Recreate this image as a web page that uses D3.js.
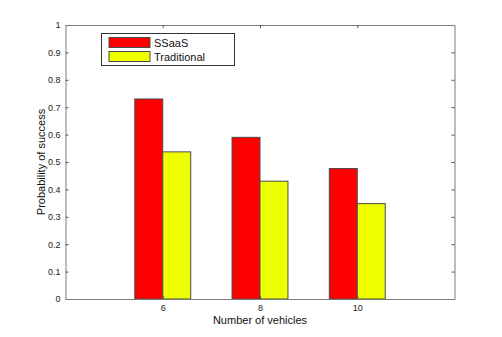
<!DOCTYPE html>
<html>
<head>
<meta charset="utf-8">
<script src="https://cdn.jsdelivr.net/npm/d3@7"></script>
<style>
  body { margin: 0; background: #fff; }
  svg { display: block; font-family: "Liberation Sans", Arial, sans-serif; }
</style>
</head>
<body>
<script>
// data
const vehicles = [6, 8, 10];
const seriesNames = ["SSaaS", "Traditional"];
const ssaas = [0.73, 0.59, 0.476];
const traditional = [0.537, 0.43, 0.348];
const yTicks = [0, 0.1, 0.2, 0.3, 0.4, 0.5, 0.6, 0.7, 0.8, 0.9, 1];

const svgWidth = 502, svgHeight = 337;
const plotLeft = 65.5, plotRight = 454.5, plotTop = 25, plotBottom = 299;
const colors = ["#ff0000", "#eeff00"];

const svg = d3.select("body").append("svg")
    .attr("width", svgWidth)
    .attr("height", svgHeight);

// scales
const x = d3.scaleLinear().domain([4, 12]).range([plotLeft, plotRight]);
const y = d3.scaleLinear().domain([0, 1]).range([plotBottom, plotTop]);
const barW = x(4.575) - x(4);

const rows = vehicles.map((v, i) => ({v: v, vals: [ssaas[i], traditional[i]]}));

// bars
const groups = svg.append("g").selectAll("g")
    .data(rows)
    .enter().append("g");

groups.selectAll("rect")
    .data(d => d.vals.map((val, j) => ({v: d.v, val: val, j: j})))
    .enter().append("rect")
    .attr("x", d => x(d.v) + (d.j - 1) * barW)
    .attr("y", d => y(d.val))
    .attr("width", barW)
    .attr("height", d => y(0) - y(d.val))
    .attr("fill", d => colors[d.j])
    .attr("stroke", "#4a4a4a")
    .attr("stroke-width", 1);

// axes (matlab style box with inward ticks)
const axisColor = "#7a7a7a";
const yAxisL = d3.axisLeft(y).tickValues(yTicks).tickSizeInner(-3).tickSizeOuter(0).tickPadding(5).tickFormat(d3.format("~g"));
const yAxisR = d3.axisRight(y).tickValues(yTicks).tickSizeInner(-3).tickSizeOuter(0).tickFormat("");
const xAxisB = d3.axisBottom(x).tickValues(vehicles).tickSizeInner(-3).tickSizeOuter(0).tickPadding(6);
const xAxisT = d3.axisTop(x).tickValues(vehicles).tickSizeInner(-3).tickSizeOuter(0).tickFormat("");

svg.append("g").attr("transform", `translate(${plotLeft},0)`).call(yAxisL);
svg.append("g").attr("transform", `translate(${plotRight},0)`).call(yAxisR);
svg.append("g").attr("transform", `translate(0,${plotBottom})`).call(xAxisB);
svg.append("g").attr("transform", `translate(0,${plotTop})`).call(xAxisT);

svg.selectAll(".domain").attr("stroke", axisColor);
svg.selectAll(".tick line").attr("stroke", "#555");
svg.selectAll(".tick text").attr("fill", "#222").style("font-size", "9px").style("font-family", "Liberation Sans, Arial, sans-serif");

// axis labels
svg.append("text")
    .attr("x", (plotLeft + plotRight) / 2)
    .attr("y", 324)
    .attr("text-anchor", "middle")
    .style("font-size", "11px")
    .attr("fill", "#111")
    .text("Number of vehicles");

svg.append("text")
    .attr("transform", `translate(45,${(plotTop + plotBottom) / 2}) rotate(-90)`)
    .attr("text-anchor", "middle")
    .style("font-size", "11px")
    .attr("fill", "#111")
    .text("Probability of success");

// legend
const legend = svg.append("g").attr("transform", "translate(101.5,33.5)");
legend.append("rect")
    .attr("width", 133)
    .attr("height", 32)
    .attr("fill", "#fff")
    .attr("stroke", "#333");

const items = legend.selectAll("g.item")
    .data(seriesNames)
    .enter().append("g")
    .attr("transform", (d, i) => `translate(7.5,${4 + i * 14})`);

items.append("rect")
    .attr("width", 41)
    .attr("height", 10)
    .attr("fill", (d, i) => colors[i])
    .attr("stroke", "#4a4a4a");

items.append("text")
    .attr("x", 45)
    .attr("y", 9.5)
    .style("font-size", "11px")
    .attr("fill", "#111")
    .text(d => d);
</script>
</body>
</html>
